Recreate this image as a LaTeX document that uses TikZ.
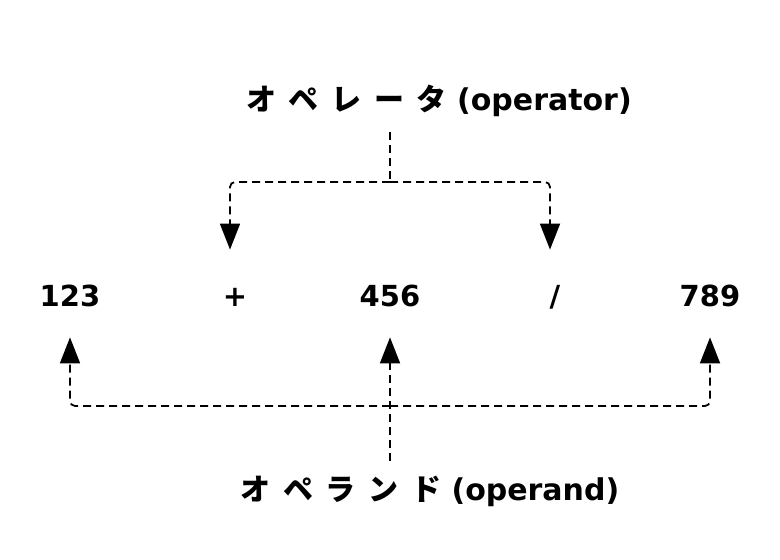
\documentclass[tikz,border=0pt]{standalone}
\usepackage{fontspec}
\setmainfont{DejaVu Sans}
\newfontfamily\jpfont{Noto Sans CJK JP}
\usetikzlibrary{arrows.meta}

\begin{document}
\begin{tikzpicture}[
    x=0.5pt, y=-0.5pt,
    term/.style={font=\bfseries\fontsize{14.5}{17}\selectfont, inner sep=0pt, text height=28.5pt, text depth=15pt, anchor=base},
    caption/.style={font=\bfseries\fontsize{15}{18}\selectfont, inner sep=0pt, outer sep=7.5pt, anchor=base},
    link/.style={line width=0.9pt, dash pattern=on 4pt off 2.5pt, rounded corners=2.5pt},
    tip/.style={-{Triangle[length=13pt, width=10pt]}}
]
\useasboundingbox (0,0) rectangle (780,560);

% Labels
\node[caption] (operator) at (439,111) {{\jpfont\spaceskip=0.42em オ ペ レ ー タ} (operator)};
\node[caption] (operand) at (430,500) {{\jpfont\spaceskip=0.42em オ ペ ラ ン ド} (operand)};

% Expression
\node[term] (n123) at (70,307) {123};
\node[term] (plus) at (235,307) {+};
\node[term] (n456) at (390,307) {456};
\node[term] (slash) at (555,307) {/};
\node[term] (n789) at (710,307) {789};

% Junctions
\coordinate (upper) at (390,182);
\coordinate (lower) at (390,406);

% Operator links
\draw[link] (operator.south -| n456) -- (upper);
\draw[link, tip] (upper) -| ([xshift=-2.5pt]plus.north);
\draw[link, tip] (upper) -| ([xshift=-2.5pt]slash.north);

% Operand links
\draw[link, tip] (lower) -| (n123.south);
\draw[link, tip] (lower) -| (n789.south);
\draw[link, tip] (operand.north -| n456) -- (n456.south);

\end{tikzpicture}
\end{document}
